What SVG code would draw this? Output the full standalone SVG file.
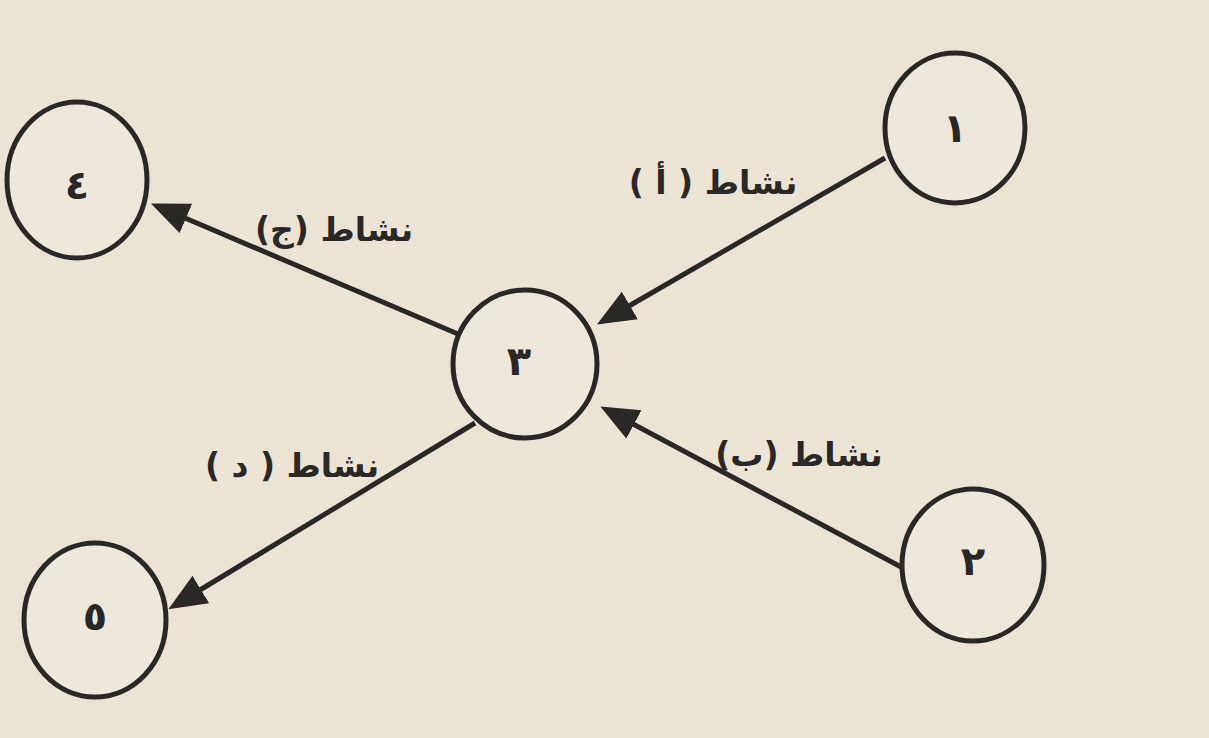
<svg xmlns="http://www.w3.org/2000/svg" width="1209" height="738" viewBox="0 0 1209 738">
  <style>
    .node { fill: #eee8dc; stroke: #2a2727; stroke-width: 5; }
    .num { font-family: "DejaVu Sans", "Noto Sans", sans-serif; font-weight: bold; font-size: 40px; fill: #2a2727; text-anchor: middle; }
    .edge { stroke: #2a2727; stroke-width: 5; fill: none; marker-end: url(#arrow); }
    .lbl { font-family: "DejaVu Sans", "Noto Sans", sans-serif; font-weight: bold; font-size: 33px; fill: #2a2727; text-anchor: middle; }
  </style>
  <defs>
    <marker id="arrow" markerUnits="userSpaceOnUse" markerWidth="40" markerHeight="34" refX="1" refY="16" orient="auto">
      <path d="M0,0 L38,16 L0,32 Z" fill="#2a2727"/>
    </marker>
  </defs>
  <rect x="0" y="0" width="1209" height="738" fill="#ebe3d4"/>

  <g id="connectors">
    <line class="edge" x1="885" y1="158" x2="629" y2="306"/>
    <line class="edge" x1="903" y1="568" x2="633" y2="424"/>
    <line class="edge" x1="458" y1="334" x2="185" y2="218"/>
    <line class="edge" x1="475" y1="423" x2="200" y2="590"/>
    <text class="lbl" x="713" y="194" direction="rtl">نشاط ( أ )</text>
    <text class="lbl" x="799" y="466" direction="rtl">نشاط (ب)</text>
    <text class="lbl" x="334" y="241" direction="rtl">نشاط (ج)</text>
    <text class="lbl" x="292" y="477" direction="rtl">نشاط ( د )</text>
  </g>

  <g id="node1">
    <ellipse class="node" cx="955" cy="128" rx="70" ry="75"/>
    <text class="num" x="955" y="142">١</text>
  </g>
  <g id="node2">
    <ellipse class="node" cx="973" cy="565" rx="71" ry="76"/>
    <text class="num" x="973" y="575">٢</text>
  </g>
  <g id="node3">
    <ellipse class="node" cx="525" cy="364" rx="72" ry="74"/>
    <text class="num" x="519" y="375">٣</text>
  </g>
  <g id="node4">
    <ellipse class="node" cx="77" cy="180" rx="70" ry="78"/>
    <text class="num" x="77" y="199">٤</text>
  </g>
  <g id="node5">
    <ellipse class="node" cx="95" cy="620" rx="71" ry="77"/>
    <text class="num" x="95" y="630">٥</text>
  </g>
</svg>
